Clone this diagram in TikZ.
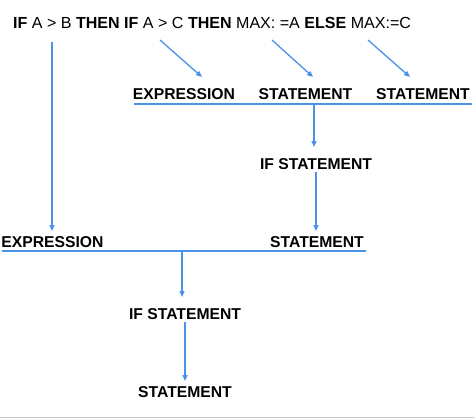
\documentclass[tikz,border=0pt]{standalone}
\usepackage{fontspec}
\setmainfont{Liberation Sans}
\usetikzlibrary{arrows.meta}

\definecolor{linkblue}{RGB}{74,146,232}

\begin{document}
\begin{tikzpicture}[x=1pt, y=-1pt]
		% styles for the labels and the blue links
		\tikzset{
			word/.style={inner sep=0pt, anchor=base, font=\fontsize{15.7}{18}\selectfont\bfseries},
			link/.style={draw=linkblue, line width=1.3pt},
			link arrow/.style={link, -{Triangle[length=6pt, width=5pt]}}
		}
		\useasboundingbox (0,0) rectangle (474,418);
		
		% the statement being parsed
		\node[word, anchor=base west, font=\fontsize{16.05}{18}\selectfont\bfseries] (code) at (13,28)
			{IF \textmd{A > B} THEN IF \textmd{A > C} THEN \textmd{MAX: =A} ELSE \textmd{MAX:=C}};
		
		% start points under the code
		\coordinate (fromAB) at (52,42);
		\coordinate (fromAC) at (160,40);
		\coordinate (fromMA) at (272,40);
		\coordinate (fromMC) at (368,40);
		
		% inner if : labels and bar
		\node[word] (exprin) at (184,99) {EXPRESSION};
		\node[word] (stmtin) at (305.5,99) {STATEMENT};
		\node[word] (stmtel) at (423,99) {STATEMENT};
		\coordinate (barinL) at (134,104);
		\coordinate (barinR) at (472,104);
		\coordinate (barinM) at (314,104);
		
		\draw[link arrow] (fromAC) -- (202,77);
		\draw[link arrow] (fromMA) -- (313,77);
		\draw[link arrow] (fromMC) -- (410,77);
		\draw[link] (barinL) -- (barinR);
		
		% inner if statement
		\node[word] (ifin) at (316,169) {IF STATEMENT};
		\draw[link arrow] (barinM) -- (barinM |- 0,147);
		
		% outer if : labels and bar
		\node[word] (exprout) at (52.5,247) {EXPRESSION};
		\node[word] (stmtout) at (317,247) {STATEMENT};
		\coordinate (baroutL) at (2,251);
		\coordinate (baroutR) at (366,251);
		\coordinate (baroutM) at (182,251);
		
		\draw[link arrow] (fromAB) -- (fromAB |- 0,231);
		\draw[link arrow] (ifin.south) ++(0,3) -- (316,231);
		\draw[link] (baroutL) -- (baroutR);
		
		% outer if statement
		\node[word] (ifout) at (185,319) {IF STATEMENT};
		\node[word] (stmtfin) at (185,397) {STATEMENT};
		\draw[link arrow] (baroutM) -- (baroutM |- 0,297);
		\draw[link arrow] (ifout.south) ++(0,3) -- (185,381);
		
		% thin rule along the bottom edge
		\draw[black!22, line width=1.2pt] (0,417.4) -- (474,417.4);
	\end{tikzpicture}
\end{document}
